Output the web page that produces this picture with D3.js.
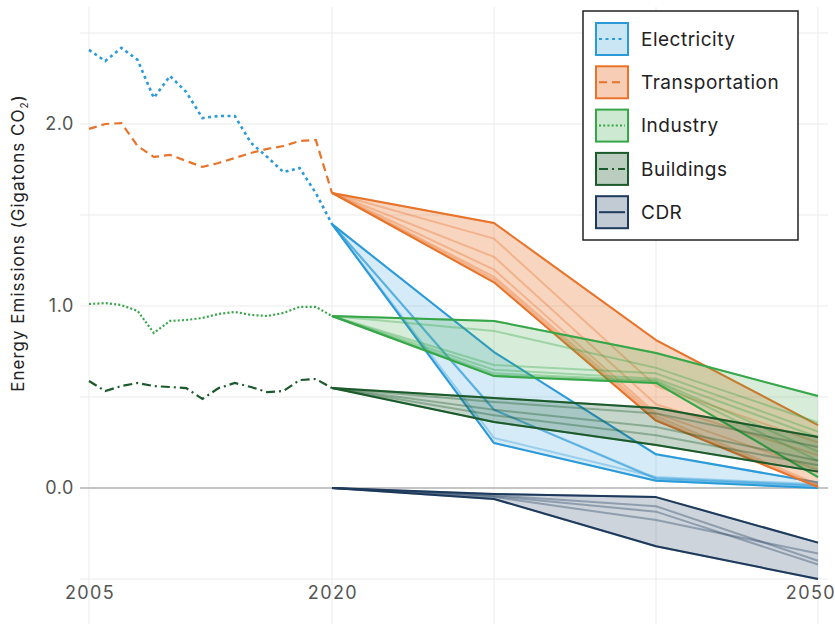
<!DOCTYPE html>
<html><head><meta charset="utf-8">
<script src="https://cdn.jsdelivr.net/npm/d3@7"></script>
<style>body{margin:0;background:#fff}svg{display:block}</style>
</head><body><svg id="c" width="835" height="624"></svg>
<script>
// ---------- data ----------
const histYears = [2005,2006,2007,2008,2009,2010,2011,2012,2013,2014,2015,2016,2017,2018,2019,2020];
const projYears = [2020, 2030, 2040, 2050];
const sectors = ["Electricity", "Transportation", "Industry", "Buildings", "CDR"];

const histElectricity    = [2.407,2.346,2.418,2.352,2.143,2.264,2.176,2.033,2.044,2.044,1.896,1.819,1.736,1.758,1.621,1.45];
const histTransportation = [1.973,2.000,2.005,1.879,1.819,1.830,1.797,1.764,1.786,1.813,1.841,1.863,1.879,1.907,1.912,1.621];
const histIndustry       = [1.011,1.016,1.005,0.973,0.852,0.918,0.923,0.934,0.956,0.967,0.951,0.945,0.962,0.995,0.995,0.945];
const histBuildings      = [0.588,0.533,0.560,0.577,0.560,0.555,0.549,0.489,0.549,0.577,0.555,0.527,0.533,0.593,0.599,0.549];

const projElectricity = [
  [1.45, 0.747, 0.185, 0.030],
  [1.45, 0.430, 0.050, 0.010],
  [1.45, 0.430, 0.050, 0.012],
  [1.45, 0.430, 0.055, 0.015],
  [1.45, 0.275, 0.060, 0.020],
  [1.45, 0.247, 0.040, 0.000]
];
const projTransportation = [
  [1.621, 1.456, 0.813, 0.346],
  [1.621, 1.370, 0.560, 0.250],
  [1.621, 1.270, 0.460, 0.180],
  [1.621, 1.200, 0.410, 0.100],
  [1.621, 1.160, 0.395, 0.020],
  [1.621, 1.145, 0.380, 0.010],
  [1.621, 1.130, 0.370, 0.005]
];
const projIndustry = [
  [0.945, 0.918, 0.742, 0.505],
  [0.945, 0.863, 0.660, 0.360],
  [0.945, 0.676, 0.630, 0.310],
  [0.945, 0.650, 0.600, 0.280],
  [0.945, 0.630, 0.590, 0.200],
  [0.945, 0.620, 0.585, 0.150],
  [0.945, 0.615, 0.577, 0.060]
];
const projBuildings = [
  [0.549, 0.495, 0.440, 0.280],
  [0.549, 0.473, 0.410, 0.225],
  [0.549, 0.430, 0.335, 0.150],
  [0.549, 0.400, 0.290, 0.125],
  [0.549, 0.363, 0.236, 0.090]
];
const projCDR = [
  [0, -0.033, -0.050, -0.300],
  [0, -0.040, -0.100, -0.400],
  [0, -0.045, -0.130, -0.420],
  [0, -0.050, -0.176, -0.360],
  [0, -0.060, -0.320, -0.500]
];

const yGridValues = [-0.5, 0, 0.5, 1, 1.5, 2, 2.5];
const yTickValues = [0, 1, 2];
const yTickLabels = ["0.0", "1.0", "2.0"];
const xGridValues = [2005, 2020, 2030, 2040, 2050];
const xTickValues = [2005, 2020, 2050];
const xTickLabels = ["2005", "2020", "2050"];

// ---------- styles ----------
const colors = {Electricity:"#2b9ad9", Transportation:"#e8732a", Industry:"#36a748", Buildings:"#1b5a2a", CDR:"#1d3a5c"};
const fillOp = {Electricity:0.2, Transportation:0.3, Industry:0.2, Buildings:0.25, CDR:0.22};
const dashes = {Electricity:"3,3.5", Transportation:"8,5", Industry:"2,2.2", Buildings:"9,4,2,4", CDR:null};
const histData = {Electricity:histElectricity, Transportation:histTransportation, Industry:histIndustry, Buildings:histBuildings};
const projData = {Electricity:projElectricity, Transportation:projTransportation, Industry:projIndustry, Buildings:projBuildings, CDR:projCDR};

const font = "Inter, 'Noto Sans', sans-serif";
const svg = d3.select("#c");
const x = d3.scaleLinear().domain([2005, 2050]).range([89, 818]);
const y = d3.scaleLinear().domain([-0.5, 2.5]).range([579, 33]);

// grid
const g = svg.append("g");
g.selectAll(".hg").data(yGridValues).join("line")
  .attr("x1", 80).attr("x2", 828)
  .attr("y1", d => y(d)).attr("y2", d => y(d))
  .attr("stroke", "#ebebeb").attr("stroke-width", 1);
g.selectAll(".vg").data(xGridValues).join("line")
  .attr("x1", d => x(d)).attr("x2", d => x(d))
  .attr("y1", 7).attr("y2", 624)
  .attr("stroke", "#ebebeb").attr("stroke-width", 1);
// zero line
g.append("line").attr("x1", 80).attr("x2", 828).attr("y1", y(0)).attr("y2", y(0))
  .attr("stroke", "#b3b3b3").attr("stroke-width", 1.6);

// y tick labels
svg.selectAll(".yt").data(yTickValues).join("text")
  .attr("x", 74).attr("y", d => y(d)).attr("dy", "0.36em")
  .attr("text-anchor", "end").attr("font-family", font).attr("font-size", 18)
  .attr("letter-spacing", 0.6)
  .attr("fill", "#555").text((d, i) => yTickLabels[i]);
// x tick labels
svg.selectAll(".xt").data(xTickValues).join("text")
  .attr("x", (d, i) => i === 2 ? 836 : x(d) + 1).attr("y", 599)
  .attr("text-anchor", (d, i) => i === 2 ? "end" : "middle")
  .attr("font-family", font).attr("font-size", 18).attr("letter-spacing", 1.4)
  .attr("fill", "#555").text((d, i) => xTickLabels[i]);

// y title
const yt = svg.append("text")
  .attr("transform", "translate(24,243) rotate(-90)")
  .attr("text-anchor", "middle").attr("font-family", font).attr("font-size", 17)
  .attr("letter-spacing", 1.0)
  .attr("fill", "#222");
yt.append("tspan").text("Energy Emissions (Gigatons CO");
yt.append("tspan").attr("font-size", 10).attr("dy", 4).text("2");
yt.append("tspan").attr("dy", -4).text(")");

// projections
const line = d3.line().x((d, i) => x(projYears[i])).y(d => y(d));
const plot = svg.append("g");
sectors.forEach(s => {
  const scen = projData[s];
  const lo = projYears.map((yr, i) => d3.min(scen, r => r[i]));
  const hi = projYears.map((yr, i) => d3.max(scen, r => r[i]));
  const area = d3.area().x((d, i) => x(projYears[i])).y0((d, i) => y(lo[i])).y1((d, i) => y(hi[i]));
  const sg = plot.append("g");
  sg.append("path").datum(lo).attr("d", area).attr("fill", colors[s]).attr("fill-opacity", fillOp[s]);
  sg.selectAll(".sc").data(scen).join("path").attr("d", line)
    .attr("fill", "none").attr("stroke", colors[s]).attr("stroke-width", 2)
    .attr("stroke-opacity", 0.35).attr("stroke-linejoin", "round");
  [lo, hi].forEach(b => sg.append("path").datum(b).attr("d", line)
    .attr("fill", "none").attr("stroke", colors[s]).attr("stroke-width", 2)
    .attr("stroke-linejoin", "round"));
});

// historical
const hline = d3.line().x((d, i) => x(histYears[i])).y(d => y(d));
Object.keys(histData).forEach(s => {
  plot.append("path").datum(histData[s]).attr("d", hline)
    .attr("fill", "none").attr("stroke", colors[s])
    .attr("stroke-width", s === "Electricity" ? 2.6 : 2.2)
    .attr("stroke-dasharray", dashes[s]);
});

// legend
const lg = svg.append("g");
lg.append("rect").attr("x", 583).attr("y", 11).attr("width", 215).attr("height", 229)
  .attr("fill", "#fff").attr("stroke", "#222").attr("stroke-width", 1.5);
sectors.forEach((s, i) => {
  const cy = 39 + i * 43.3;
  lg.append("rect").attr("x", 596).attr("y", cy - 16).attr("width", 32).attr("height", 32)
    .attr("fill", colors[s]).attr("fill-opacity", fillOp[s] + 0.05)
    .attr("stroke", colors[s]).attr("stroke-width", 2);
  lg.append("line").attr("x1", 599).attr("x2", 625).attr("y1", cy).attr("y2", cy)
    .attr("stroke", colors[s]).attr("stroke-width", 2)
    .attr("stroke-dasharray", dashes[s]);
  lg.append("text").attr("x", 641).attr("y", cy).attr("dy", "0.36em")
    .attr("font-family", font).attr("font-size", 19).attr("letter-spacing", 0.5)
    .attr("fill", "#222").text(s);
});
</script></body></html>
